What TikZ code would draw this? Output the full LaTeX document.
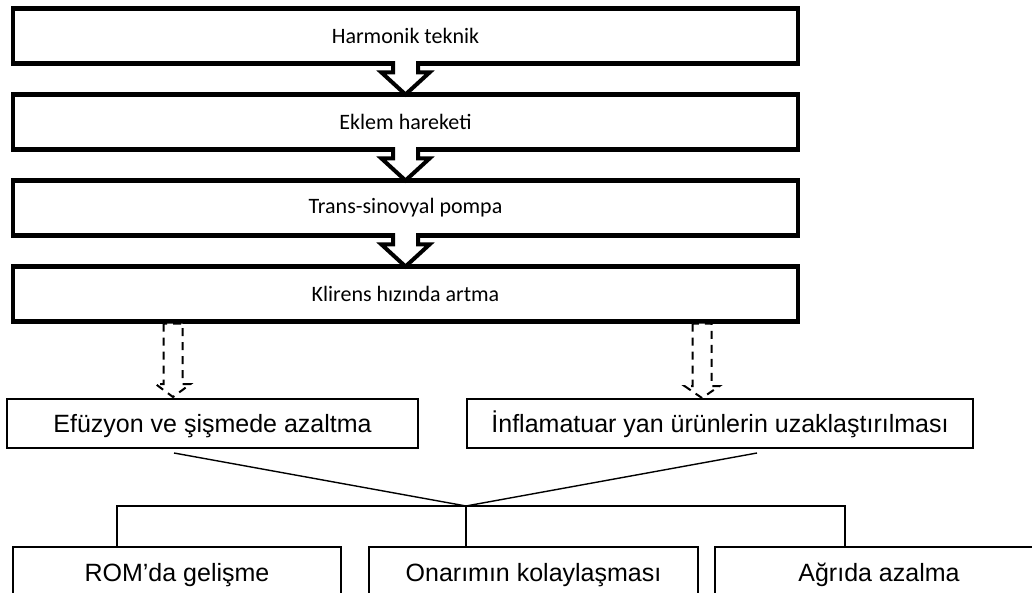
\documentclass[tikz,border=0pt]{standalone}
\usepackage{fontspec}
\setmainfont{Liberation Sans}
\newfontfamily\calfont{Carlito}
\usetikzlibrary{positioning,calc}

\begin{document}
\begin{tikzpicture}[x=1pt, y=-1pt, every node/.style={inner sep=0pt, outer sep=0pt},
  topbox/.style={draw, line width=4.5pt, minimum width=785pt, minimum height=55pt,
    font=\calfont\fontsize{22}{26}\selectfont},
  lowbox/.style={draw, line width=1.4pt, minimum height=49pt, text height=18pt, text depth=0pt,
    font=\fontsize{25}{30}\selectfont},
  bigarrow/.style={draw, fill=white, line width=4pt, line join=miter},
  dasharrow/.style={draw, fill=white, line width=2pt, dash pattern=on 8pt off 6pt},
  link/.style={line width=1.4pt}]
  \useasboundingbox (0,0) rectangle (1032,593);
  \clip (0,0) rectangle (1032,593);

  % Top chain
  \node[topbox] (harm) at (405.5,36) {Harmonik teknik};
  \node[topbox, below=31pt of harm] (eklem) {Eklem hareketi};
  \node[topbox, below=31pt of eklem] (pompa) {Trans-sinovyal pompa};
  \node[topbox, below=31pt of pompa] (klirens) {Klirens hızında artma};

  % Hollow arrows between the boxes
  \foreach \a/\b in {harm/eklem, eklem/pompa, pompa/klirens}
    \filldraw[bigarrow] ($(\a.south)+(-12.5,-2.3)$) -- ++(0,11.3) -- ++(-11.5,0) -- (\b.north)
      -- ($(\a.south)+(24,9)$) -- ++(-11.5,0) -- ++(0,-11.3);

  % Two effects
  \node[lowbox, minimum width=411pt] (efuz) at (212.5,423.5) {Efüzyon ve şişmede azaltma};
  \node[lowbox, minimum width=506pt, right=49pt of efuz] (inflam) {İnflamatuar yan ürünlerin uzaklaştırılması};

  % Dashed arrows
  \coordinate (dl) at (173,0);
  \coordinate (dr) at (702,0);
  \filldraw[dasharrow] ($(klirens.south -| dl)+(-9.5,2)$) -- ($(efuz.north -| dl)+(-9.5,-15)$) -- ++(-8,0)
    -- ($(efuz.north -| dl)+(0,-2)$) -- ($(efuz.north -| dl)+(17.5,-15)$) -- ++(-8,0)
    -- ($(klirens.south -| dl)+(9.5,2)$) -- cycle;
  \filldraw[dasharrow] ($(klirens.south -| dr)+(-9.5,2)$) -- ($(inflam.north -| dr)+(-9.5,-13)$) -- ++(-8,0)
    -- ($(inflam.north -| dr)+(0,-1)$) -- ($(inflam.north -| dr)+(17.5,-13)$) -- ++(-8,0)
    -- ($(klirens.south -| dr)+(9.5,2)$) -- cycle;

  % Results
  \node[lowbox, minimum width=328pt, minimum height=50pt] (rom) at (177,572) {ROM’da gelişme};
  \node[lowbox, minimum width=329pt, minimum height=50pt, right=28pt of rom] (onar) {Onarımın kolaylaşması};
  \node[lowbox, minimum width=328pt, minimum height=50pt, right=17pt of onar] (agri) {Ağrıda azalma};

  % Joining lines
  \coordinate (efuzend) at (174,453);
  \coordinate (inflend) at (757,453);
  \coordinate (join) at (466,506);
  \coordinate (lft) at (117,0);
  \coordinate (rgt) at (845,0);
  \draw[link] (efuzend) -- (join) -- (inflend);
  \draw[link] (rom.north -| lft) |- (join) -| (agri.north -| rgt);
  \draw[link] (join) -- (join |- onar.north);
\end{tikzpicture}
\end{document}
